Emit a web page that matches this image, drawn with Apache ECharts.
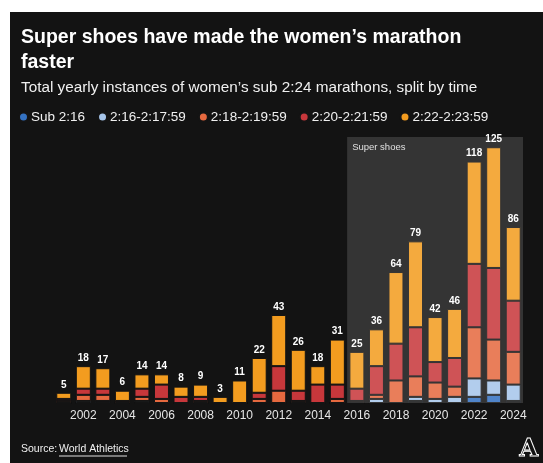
<!DOCTYPE html>
<html>
<head>
<meta charset="utf-8">
<script src="https://cdn.jsdelivr.net/npm/echarts@6/dist/echarts.min.js"></script>
<style>
  html, body { margin:0; padding:0; background:#ffffff; width:543px; height:463px; overflow:hidden; }
  #bg { position:absolute; left:10px; top:12px; right:0; bottom:0; background:#131313; }
  #chart { position:absolute; left:0; top:0; width:543px; height:463px; }
</style>
</head>
<body>
<div id="bg"></div>
<div id="chart"></div>
<script>
// ---- data ----
const years = ['2001','2002','2003','2004','2005','2006','2007','2008','2009','2010','2011','2012',
               '2013','2014','2015','2016','2017','2018','2019','2020','2021','2022','2023','2024'];
const seriesNames = ['Sub 2:16', '2:16-2:17:59', '2:18-2:19:59', '2:20-2:21:59', '2:22-2:23:59'];
const sub216   = [0,0,1,0,0,0,0,0,0,0,0,0,0,0,0,0,0,0,1,0,0,3,4,1];
const t216_218 = [0,1,0,0,1,0,0,0,0,0,0,0,0,0,0,0,2,0,2,2,3,9,7,8];
const t218_220 = [1,3,3,1,2,2,0,1,0,0,2,6,1,0,2,1,2,11,10,8,5,25,20,16];
const t220_222 = [1,3,3,0,4,7,3,2,0,0,3,12,5,9,7,6,14,18,24,10,14,31,35,25];
const t222_224 = [3,11,10,5,7,5,5,6,3,11,17,25,20,9,22,18,18,35,42,22,24,50,59,36];
const shadeStart = 2015.5, shadeEnd = 2024.5;   // "Super shoes" era
const shadeLabel = 'Super shoes';

const valueArrays = [sub216, t216_218, t218_220, t220_222, t222_224];
const totals = years.map((_, i) => valueArrays.reduce((s, a) => s + a[i], 0));
const colors = ['#3472c2', '#a6c5ea', '#e6693f', '#c7373b', '#f39c1f'];

const chart = echarts.init(document.getElementById('chart'), null, { renderer: 'canvas' });
const FONT = '"Liberation Sans", Arial, sans-serif';

const barSeries = valueArrays.map((arr, k) => ({
  name: seriesNames[k],
  type: 'bar',
  stack: 'total',
  data: arr,
  barWidth: 15,
  itemStyle: { color: colors[k], borderColor: '#141414', borderWidth: 1 },
  label: k === 4 ? {
    show: true, position: 'top', distance: 3,
    color: '#ffffff', fontFamily: FONT, fontWeight: 'bold', fontSize: 10,
    formatter: p => String(totals[p.dataIndex])
  } : { show: false },
  z: 2
}));

const option = {
  animation: false,
  textStyle: { fontFamily: FONT },
  title: [
    { text: 'Super shoes have made the women\u2019s marathon\nfaster', left: 21, top: 25, padding: 0,
      textStyle: { color: '#ffffff', fontFamily: FONT, fontWeight: 'bold', fontSize: 19.5, lineHeight: 25 } },
    { text: 'Total yearly instances of women\u2019s sub 2:24 marathons, split by time', left: 21, top: 79, padding: 0,
      textStyle: { color: '#f0f0f0', fontFamily: FONT, fontWeight: 'normal', fontSize: 15.3, lineHeight: 18 } }
  ],
  legend: {
    data: seriesNames, left: 13, top: 105, icon: 'circle', itemWidth: 9, itemHeight: 9, itemGap: 12,
    textStyle: { color: '#f0f0f0', fontFamily: FONT, fontSize: 13.5, padding: [0, 0, 0, -2] },
    selectedMode: false
  },
  grid: { left: 54, right: 20, top: 137, bottom: 60, containLabel: false },
  xAxis: [
    { type: 'category', data: years, boundaryGap: true,
      axisLine: { show: false }, axisTick: { show: false },
      axisLabel: { color: '#e6e6e6', fontFamily: FONT, fontSize: 12, margin: 7,
                   interval: (i, v) => Number(v) % 2 === 0 } },
    { type: 'value', min: 2000.5, max: 2024.5, show: false }
  ],
  yAxis: { type: 'value', min: 0, max: 130, show: false, splitLine: { show: false } },
  series: barSeries.concat([{
    type: 'line', xAxisIndex: 1, data: [], silent: true, z: 5,
    markArea: {
      silent: true, z: 10,
      itemStyle: { color: 'rgba(255,255,255,0.14)' },
      label: { show: true, position: 'insideTopLeft', distance: 5, color: '#e0e0e0',
               fontFamily: FONT, fontSize: 9.5 },
      data: [[{ name: shadeLabel, xAxis: shadeStart, yAxis: 130 }, { xAxis: shadeEnd, yAxis: 0 }]]
    }
  }]),
  graphic: [
    { type: 'text', left: 21, top: 444, style: { text: 'Source:', fill: '#f0f0f0', font: '10.5px ' + FONT } },
    { type: 'text', left: 59, top: 444, style: { text: 'World Athletics', fill: '#f0f0f0', font: '10.5px ' + FONT } },
    { type: 'line', shape: { x1: 59, y1: 456, x2: 127, y2: 456 }, style: { stroke: '#e0e0e0', lineWidth: 1 } },
    { type: 'text', left: 519, top: 437, style: { text: 'A', fill: 'rgba(0,0,0,0)', stroke: '#ffffff', lineWidth: 1,
      font: 'bold 24px "DejaVu Serif", serif' } }
  ]
};
chart.setOption(option);
</script>
</body>
</html>
